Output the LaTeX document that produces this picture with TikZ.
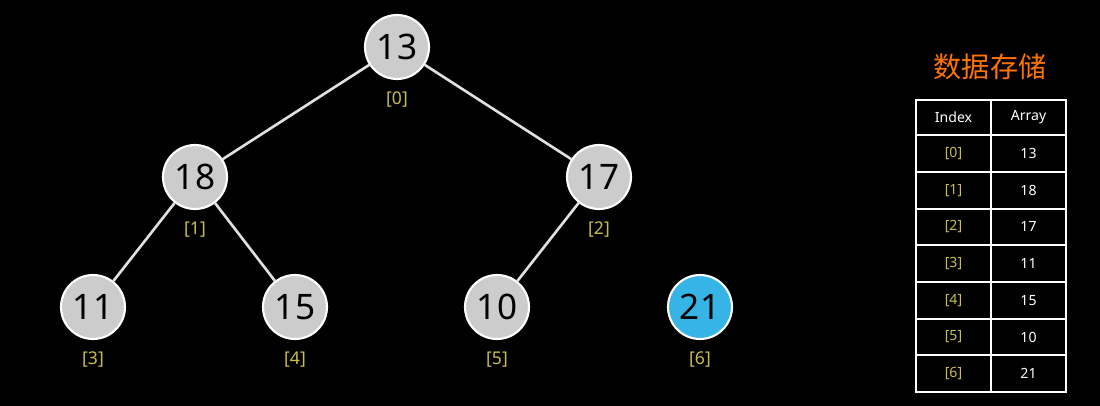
\documentclass[tikz,border=0pt]{standalone}
\usepackage{fontspec}
\setmainfont{Noto Sans}
\newfontfamily\cjk{Noto Sans CJK SC}
\usetikzlibrary{positioning}
\definecolor{idxyellow}{RGB}{200,190,80}
\definecolor{leafblue}{RGB}{54,180,230}
\begin{document}
\begin{tikzpicture}[x=0.02cm,y=-0.02cm,
		heapnode/.style={circle, draw=white, line width=1.2pt, fill=black!20, minimum size=1.28cm, inner sep=0pt, font=\fontsize{20}{20}\selectfont},
		idx/.style={text=idxyellow, font=\fontsize{10}{10}\selectfont},
		cell/.style={draw=white, line width=1pt, minimum width=1.5cm, minimum height=0.73cm, inner sep=0pt, text=white, font=\fontsize{8}{8}\selectfont},
		edge/.style={draw=black!12, line width=1.5pt},
	]
		\fill[black] (0,0) rectangle (1100,406);
		
		\node[heapnode] (n0) at (397,47) {13};
		\node[heapnode] (n1) at (195,177) {18};
		\node[heapnode] (n2) at (599,177) {17};
		\node[heapnode] (n3) at (93,307) {11};
		\node[heapnode] (n4) at (295,307) {15};
		\node[heapnode] (n5) at (497,307) {10};
		\node[heapnode, fill=leafblue] (n6) at (700,307) {21};
		
		\foreach \i in {0,...,6}
			\node[idx, below=3pt of n\i] (l\i) {[\i]};
		
		\draw[edge] (n0) -- (n1);
		\draw[edge] (n0) -- (n2);
		\draw[edge] (n1) -- (n3);
		\draw[edge] (n1) -- (n4);
		\draw[edge] (n2) -- (n5);
		
		\node[text=orange!90!red, font=\cjk\fontsize{16}{16}\selectfont] (title) at (990,67) {数据存储};
		
		\node[cell, minimum height=0.7cm] (h0) at (953.5,117.5) {Index};
		\node[cell, minimum height=0.7cm] (h1) at (1028.5,117.5) {Array};
		\foreach \i/\v in {0/13,1/18,2/17,3/11,4/15,5/10,6/21} {
			\node[cell, text=idxyellow] (c\i) at (953.5,{153.5+36.7*\i}) {[\i]};
			\node[cell] (v\i) at (1028.5,{153.5+36.7*\i}) {\v};
		}
	\end{tikzpicture}
\end{document}
